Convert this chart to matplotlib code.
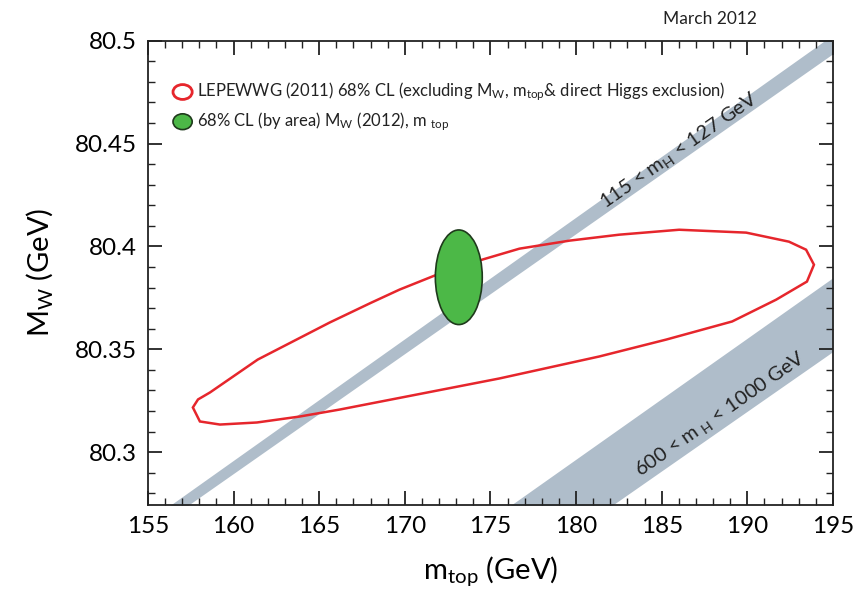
import numpy as np
import matplotlib
matplotlib.use("Agg")
import matplotlib.pyplot as plt
from matplotlib.patches import Ellipse, Polygon
from matplotlib.ticker import MultipleLocator

plt.rcParams['font.family'] = ['Lato', 'DejaVu Sans']
plt.rcParams['mathtext.fontset'] = 'custom'
plt.rcParams['mathtext.rm'] = 'Lato'
plt.rcParams['mathtext.it'] = 'Lato'

# SM bands (edges at mtop = 155 and 195 GeV)
band_mt = [155, 195]
light_lo = [80.2605, 80.4937]   # 115 < mH < 127 GeV
light_hi = [80.2665, 80.5029]
dark_lo = [80.1169, 80.3489]    # 600 < mH < 1000 GeV
dark_hi = [80.1496, 80.3848]

# LEPEWWG (2011) 68% CL contour
lep_mt = [157.62, 157.92, 158.62, 161.41, 165.61, 168.0, 169.69, 171.79, 174.53, 176.69,
          179.61, 182.52, 186.02, 189.93, 192.43, 193.43, 193.89, 193.48, 191.68,
          189.11, 185.26, 181.36, 175.52, 166.20, 163.86, 161.36, 159.20, 158.03]
lep_mw = [80.3217, 80.3256, 80.3290, 80.3450, 80.3630, 80.3725, 80.3790, 80.3860, 80.3936, 80.3989,
          80.4028, 80.4057, 80.4081, 80.4067, 80.4023, 80.3984, 80.3911, 80.3829, 80.3741,
          80.3635, 80.3547, 80.3465, 80.3358, 80.3207, 80.3173, 80.3144, 80.3134, 80.3149]

# direct measurement 68% CL (by area)
mt_fit, mt_half = 173.15, 1.37
mw_fit, mw_half = 80.385, 0.023

band_col = '#afbdca'
red = '#e6262c'
green = '#4cb847'

fig = plt.figure(figsize=(8.56, 5.95), dpi=100)
ax = fig.add_axes([0.1729, 0.1513, 0.8002, 0.7803])
ax.set_xlim(155, 195)
ax.set_ylim(80.2743, 80.5)

ax.fill_between(band_mt, light_lo, light_hi, color=band_col, lw=0, zorder=1)
ax.fill_between(band_mt, dark_lo, dark_hi, color=band_col, lw=0, zorder=1)

ax.add_patch(Polygon(np.column_stack([lep_mt, lep_mw]), closed=True, fill=False,
                     edgecolor=red, lw=1.8, zorder=3))
ax.add_patch(Ellipse((mt_fit, mw_fit), 2 * mt_half, 2 * mw_half, facecolor=green,
                     edgecolor='#1f3a1c', lw=1.2, zorder=4))

# angle of the bands on screen
p0 = ax.transData.transform((band_mt[0], light_lo[0]))
p1 = ax.transData.transform((band_mt[1], light_lo[1]))
ang = np.degrees(np.arctan2(p1[1] - p0[1], p1[0] - p0[0]))
ax.text(186.0, 80.4465, r'115 < m$_H$ < 127 GeV', rotation=ang, ha='center', va='center',
        fontsize=14.5, color='#222222', rotation_mode='anchor', zorder=5)
ax.text(188.4, 80.3185, r'600 < m$_{\ H}$ < 1000 GeV', rotation=ang, ha='center', va='center',
        fontsize=14.5, color='#222222', rotation_mode='anchor', zorder=5)

# legend
ax.add_patch(Ellipse((0.0505, 0.8895), 0.028, 0.032, transform=ax.transAxes,
                     fill=False, edgecolor=red, lw=2, zorder=6))
ax.add_patch(Ellipse((0.0505, 0.8255), 0.028, 0.034, transform=ax.transAxes,
                     facecolor=green, edgecolor='#1f3a1c', lw=1.2, zorder=6))
ax.text(0.0715, 0.8895, r'LEPEWWG (2011) 68% CL (excluding M$_W$, m$_{top}$& direct Higgs exclusion)',
        transform=ax.transAxes, fontsize=12, va='center', ha='left', color='#222222')
ax.text(0.0715, 0.8255, r'68% CL (by area) M$_W$ (2012), m $_{top}$',
        transform=ax.transAxes, fontsize=12, va='center', ha='left', color='#222222')

ax.xaxis.set_major_locator(MultipleLocator(5))
ax.xaxis.set_minor_locator(MultipleLocator(1))
ax.yaxis.set_major_locator(MultipleLocator(0.05))
ax.yaxis.set_minor_locator(MultipleLocator(0.01))
ax.set_xticks(np.arange(155, 196, 5))
ax.set_xticklabels([str(v) for v in range(155, 196, 5)])
ax.set_yticks([80.3, 80.35, 80.4, 80.45, 80.5])
ax.set_yticklabels(['80.3', '80.35', '80.4', '80.45', '80.5'])
ax.tick_params(which='both', direction='in', top=True, right=True, color='#222222')
ax.tick_params(which='major', length=10, width=1.3, labelsize=17.5, pad=8)
ax.tick_params(which='minor', length=5, width=1.0)
for s in ax.spines.values():
    s.set_linewidth(1.3)
    s.set_color('#222222')

ax.set_xlabel(r'm$_{top}$ (GeV)', fontsize=21, labelpad=12)
ax.set_ylabel(r'M$_W$ (GeV)', fontsize=21, labelpad=14)

fig.text(0.829, 0.968, 'March 2012', fontsize=12.5, ha='center', va='center', color='#222222')

fig.savefig('out.png', dpi=100)
